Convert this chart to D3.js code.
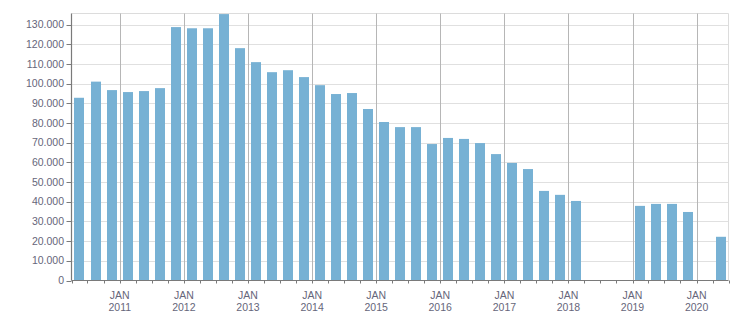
<!DOCTYPE html>
<html>
<head>
<meta charset="utf-8">
<script src="https://cdn.jsdelivr.net/npm/d3@7"></script>
<style>
  html, body { margin: 0; padding: 0; background: #fff; }
  svg { display: block; font-family: 'Liberation Sans', Arial, sans-serif; }
</style>
</head>
<body>
<script>
// quarter start months, one bar per quarter
const quarters = [
  '2010-04', '2010-07', '2010-10',
  '2011-01', '2011-04', '2011-07', '2011-10',
  '2012-01', '2012-04', '2012-07', '2012-10',
  '2013-01', '2013-04', '2013-07', '2013-10',
  '2014-01', '2014-04', '2014-07', '2014-10',
  '2015-01', '2015-04', '2015-07', '2015-10',
  '2016-01', '2016-04', '2016-07', '2016-10',
  '2017-01', '2017-04', '2017-07', '2017-10',
  '2018-01', '2018-04', '2018-07', '2018-10',
  '2019-01', '2019-04', '2019-07', '2019-10',
  '2020-01', '2020-04'
]
const values = [
  92800, 101000, 96700,
  95700, 96200, 97700, 128700,
  128100, 128100, 135300, 118000,
  110900, 105800, 106800, 103300,
  99200, 94700, 95200, 87100,
  80500, 77900, 77900, 69300,
  72400, 71900, 69800, 64200,
  59700, 56600, 45500, 43500,
  40400, null, null, null,
  37900, 38900, 38900, 34800,
  null, 22200
]
const yTicks = [0, 10000, 20000, 30000, 40000, 50000, 60000, 70000, 80000, 90000, 100000, 110000, 120000, 130000]
const yearTicks = ['2011', '2012', '2013', '2014', '2015', '2016', '2017', '2018', '2019', '2020']
const monthLabel = 'JAN'
const domainStart = '2010-04-01'
const domainEnd = '2020-07-01'
const yMax = 135600

const width = 751
const height = 313
const plotLeft = 71.5
const plotRight = 728.5
const plotTop = 13.5
const plotBottom = 280.5

const textColor = '#66667a'
const barColor = '#77b1d4'

const parse = d3.utcParse('%Y-%m')
const locale = d3.formatLocale({ decimal: ',', thousands: '.', grouping: [3], currency: ['', ''] })
const fmt = locale.format(',')

const x = d3.scaleUtc()
  .domain([new Date(domainStart), new Date(domainEnd)])
  .range([plotLeft, plotRight])
const y = d3.scaleLinear()
  .domain([0, yMax])
  .range([plotBottom, plotTop])

const svg = d3.select('body').append('svg')
  .attr('width', width)
  .attr('height', height)

// horizontal grid
svg.append('g')
  .selectAll('line')
  .data(yTicks.slice(1))
  .enter().append('line')
  .attr('x1', plotLeft).attr('x2', plotRight)
  .attr('y1', d => Math.round(y(d)) + 0.5)
  .attr('y2', d => Math.round(y(d)) + 0.5)
  .attr('stroke', '#e0e0e0')

// frame top / right
svg.append('line')
  .attr('x1', plotLeft).attr('x2', plotRight).attr('y1', plotTop).attr('y2', plotTop)
  .attr('stroke', '#dcdcdc')
svg.append('line')
  .attr('x1', plotRight).attr('x2', plotRight).attr('y1', plotTop).attr('y2', plotBottom)
  .attr('stroke', '#dcdcdc')

// vertical year lines
const years = yearTicks.map(d => new Date(d + '-01-01'))
svg.append('g')
  .selectAll('line')
  .data(years)
  .enter().append('line')
  .attr('x1', d => Math.round(x(d)) + 0.5)
  .attr('x2', d => Math.round(x(d)) + 0.5)
  .attr('y1', plotTop).attr('y2', plotBottom)
  .attr('stroke', '#b6b6b6')

// bars
const data = quarters.map((q, i) => ({ start: parse(q), value: values[i] }))
  .filter(d => d.value !== null)
const barW = 10
svg.append('g')
  .selectAll('rect')
  .data(data)
  .enter().append('rect')
  .attr('x', d => {
    const mid = (x(d.start) + x(d3.utcMonth.offset(d.start, 3))) / 2
    return Math.round(mid - barW / 2)
  })
  .attr('width', barW)
  .attr('y', d => y(d.value))
  .attr('height', d => plotBottom - y(d.value))
  .attr('fill', barColor)

// y axis
svg.append('line')
  .attr('x1', plotLeft).attr('x2', plotLeft).attr('y1', plotTop).attr('y2', plotBottom)
  .attr('stroke', '#7a7a7a').attr('stroke-width', 1.2)
const yg = svg.append('g')
yg.selectAll('line')
  .data(yTicks)
  .enter().append('line')
  .attr('x1', plotLeft - 5).attr('x2', plotLeft)
  .attr('y1', d => Math.round(y(d)) + 0.5)
  .attr('y2', d => Math.round(y(d)) + 0.5)
  .attr('stroke', '#7a7a7a')
yg.selectAll('text')
  .data(yTicks)
  .enter().append('text')
  .attr('x', plotLeft - 7.5)
  .attr('y', d => y(d))
  .attr('dy', '0.35em')
  .attr('text-anchor', 'end')
  .attr('font-size', '10.5px')
  .attr('fill', textColor)
  .text(d => fmt(d))

// x axis
svg.append('line')
  .attr('x1', plotLeft).attr('x2', plotRight).attr('y1', plotBottom).attr('y2', plotBottom)
  .attr('stroke', '#7a7a7a').attr('stroke-width', 1.2)
const qTicks = quarters.map(parse).concat([new Date(domainEnd)])
svg.append('g')
  .selectAll('line')
  .data(qTicks)
  .enter().append('line')
  .attr('x1', d => Math.round(x(d)) + 0.5)
  .attr('x2', d => Math.round(x(d)) + 0.5)
  .attr('y1', plotBottom).attr('y2', plotBottom + 3)
  .attr('stroke', '#7a7a7a')
const xl = svg.append('g')
  .selectAll('text')
  .data(years)
  .enter().append('text')
  .attr('text-anchor', 'middle')
  .attr('font-size', '10.5px')
  .attr('fill', textColor)
xl.append('tspan')
  .attr('x', d => x(d))
  .attr('y', 298.5)
  .text(monthLabel)
xl.append('tspan')
  .attr('x', d => x(d))
  .attr('y', 310.5)
  .text((d, i) => yearTicks[i])
</script>
</body>
</html>
